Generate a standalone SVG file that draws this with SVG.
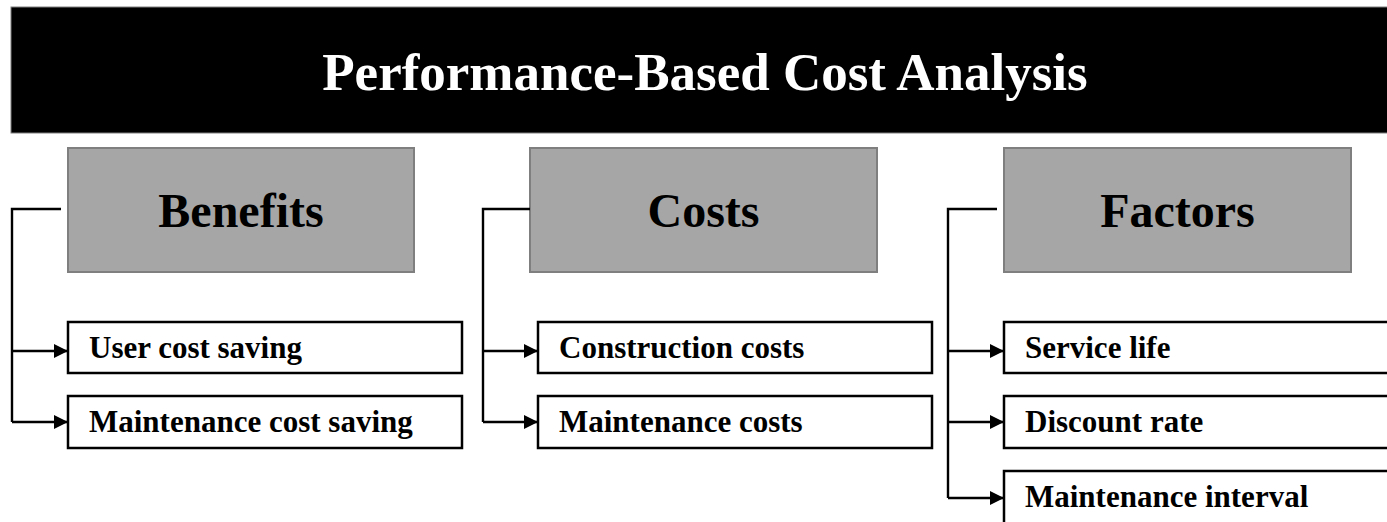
<svg xmlns="http://www.w3.org/2000/svg" width="1387" height="522" viewBox="0 0 1387 522">
  <style>
    text { font-family: "Liberation Serif", "Times New Roman", serif; font-weight: bold; }
    .title { fill: #ffffff; font-size: 53px; text-anchor: middle; }
    .head-box { fill: #a6a6a6; stroke: #7f7f7f; stroke-width: 2; }
    .head-text { fill: #000000; font-size: 48px; text-anchor: middle; }
    .item-box { fill: #ffffff; stroke: #000000; stroke-width: 2.5; }
    .item-text { fill: #000000; font-size: 31px; }
    .link { fill: none; stroke: #000000; stroke-width: 2.4; }
  </style>
  <defs>
    <marker id="arrow" viewBox="0 0 14 14" refX="14" refY="7" markerWidth="14" markerHeight="14" markerUnits="userSpaceOnUse" orient="auto">
      <path d="M0,0 L14,7 L0,14 Z" fill="#000000"/>
    </marker>
  </defs>

  <rect width="1387" height="522" fill="#ffffff"/>

  <!-- Title banner -->
  <g id="title">
    <rect x="11" y="7" width="1380" height="126" fill="#000000" stroke="#7f7f7f" stroke-width="1"/>
    <text class="title" x="705" y="90">Performance-Based Cost Analysis</text>
  </g>

  <!-- Category headers -->
  <g id="benefits">
    <rect class="head-box" x="68" y="148" width="346" height="124"/>
    <text class="head-text" x="241" y="227">Benefits</text>
  </g>
  <g id="costs">
    <rect class="head-box" x="530" y="148" width="347" height="124"/>
    <text class="head-text" x="703.5" y="227">Costs</text>
  </g>
  <g id="factors">
    <rect class="head-box" x="1004" y="148" width="347" height="124"/>
    <text class="head-text" x="1177.5" y="227">Factors</text>
  </g>

  <!-- Benefit items -->
  <g id="user-cost-saving">
    <rect class="item-box" x="68" y="322" width="394" height="51"/>
    <text class="item-text" x="89" y="358">User cost saving</text>
  </g>
  <g id="maintenance-cost-saving">
    <rect class="item-box" x="68" y="396" width="394" height="52"/>
    <text class="item-text" x="89" y="432">Maintenance cost saving</text>
  </g>

  <!-- Cost items -->
  <g id="construction-costs">
    <rect class="item-box" x="538" y="322" width="394" height="51"/>
    <text class="item-text" x="559" y="358">Construction costs</text>
  </g>
  <g id="maintenance-costs">
    <rect class="item-box" x="538" y="396" width="394" height="52"/>
    <text class="item-text" x="559" y="432">Maintenance costs</text>
  </g>

  <!-- Factor items (run off the right edge) -->
  <g id="service-life">
    <rect class="item-box" x="1004" y="322" width="400" height="51"/>
    <text class="item-text" x="1025" y="358">Service life</text>
  </g>
  <g id="discount-rate">
    <rect class="item-box" x="1004" y="396" width="400" height="52"/>
    <text class="item-text" x="1025" y="432">Discount rate</text>
  </g>
  <g id="maintenance-interval">
    <rect class="item-box" x="1004" y="471" width="400" height="60"/>
    <text class="item-text" x="1025" y="507">Maintenance interval</text>
  </g>

  <!-- Connectors -->
  <g id="connectors">
    <polyline class="link" points="61,209 12,209 12,422"/>
    <line class="link" x1="12" y1="351" x2="68" y2="351" marker-end="url(#arrow)"/>
    <line class="link" x1="12" y1="422" x2="68" y2="422" marker-end="url(#arrow)"/>

    <polyline class="link" points="530,209 483,209 483,422"/>
    <line class="link" x1="483" y1="351" x2="538" y2="351" marker-end="url(#arrow)"/>
    <line class="link" x1="483" y1="422" x2="538" y2="422" marker-end="url(#arrow)"/>

    <polyline class="link" points="997,209 948,209 948,498"/>
    <line class="link" x1="948" y1="351" x2="1004" y2="351" marker-end="url(#arrow)"/>
    <line class="link" x1="948" y1="422" x2="1004" y2="422" marker-end="url(#arrow)"/>
    <line class="link" x1="948" y1="498" x2="1004" y2="498" marker-end="url(#arrow)"/>
  </g>
</svg>
